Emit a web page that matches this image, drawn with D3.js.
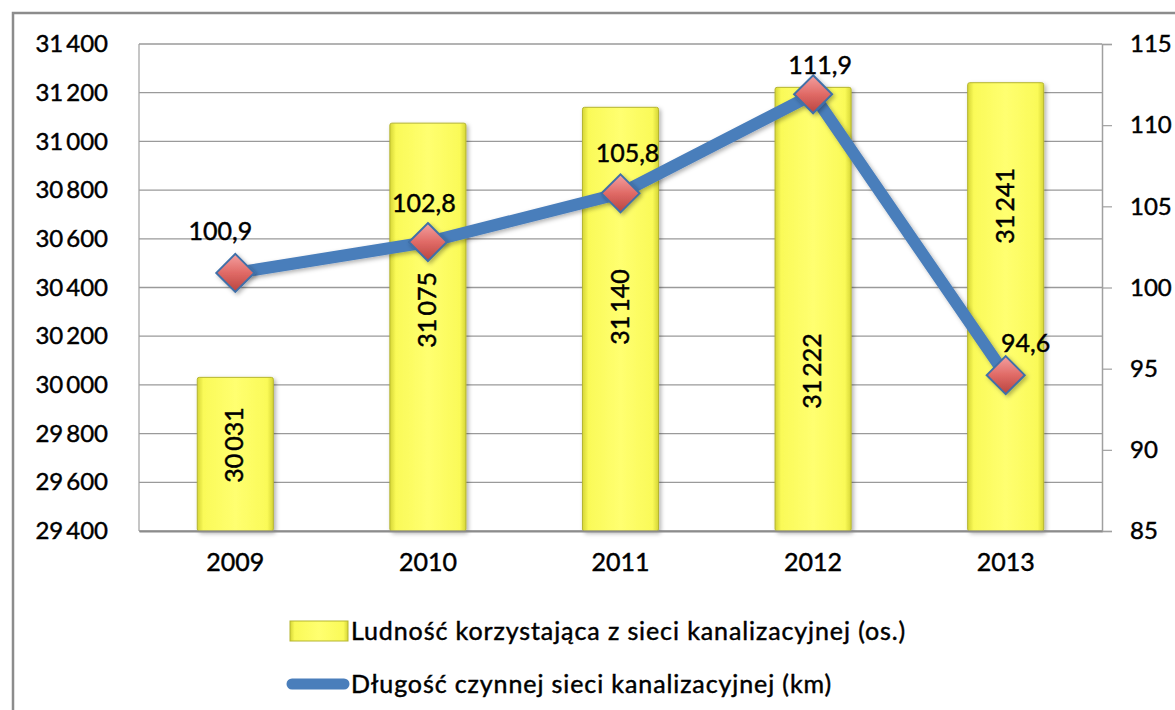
<!DOCTYPE html>
<html>
<head>
<meta charset="utf-8">
<script src="https://cdn.jsdelivr.net/npm/d3@7"></script>
<style>
  body { margin: 0; background: #fff; }
  svg { font-family: Lato, "Open Sans", sans-serif; }
  svg text { stroke: #000; stroke-width: 0.45px; }
</style>
</head>
<body>
<svg width="1175" height="710"></svg>
<script>
const years = ["2009", "2010", "2011", "2012", "2013"];
const population = [30031, 31075, 31140, 31222, 31241];
const networkKm = [100.9, 102.8, 105.8, 111.9, 94.6];
const leftTicks = [29400, 29600, 29800, 30000, 30200, 30400, 30600, 30800, 31000, 31200, 31400];
const rightTicks = [85, 90, 95, 100, 105, 110, 115];
const seriesNames = ["Ludność korzystająca z sieci kanalizacyjnej (os.)", "Długość czynnej sieci kanalizacyjnej (km)"];

// where the rotated bar labels sit (left-axis units) and line label nudges
const barLabelAt = [29753, 30308, 30320, 30057, 30735];
const lineLabelNudge = [[-15, -33], [-4, -30], [7, -31], [7, -20], [20, -23]];

const svg = d3.select("svg");
const m = { left: 139, right: 1102, top: 44, bottom: 531 };

const fmt = v => d3.format(",")(v).replace(/,/g, "\u2009");
const fmtDec = v => d3.format(".1f")(v).replace(".", ",");

const x = d3.scaleBand().domain(years).range([m.left, m.right])
  .paddingInner(0.605).paddingOuter(0.3025);
const y = d3.scaleLinear().domain([29400, 31400]).range([m.bottom, m.top]);
const y2 = d3.scaleLinear().domain([85, 115]).range([m.bottom, m.top]);
const cx = d => x(d) + x.bandwidth() / 2;

const defs = svg.append("defs");
const bg = defs.append("linearGradient").attr("id", "barGrad");
bg.append("stop").attr("offset", "0").attr("stop-color", "#d6d636");
bg.append("stop").attr("offset", "0.08").attr("stop-color", "#fafa58");
bg.append("stop").attr("offset", "0.5").attr("stop-color", "#ffff70");
bg.append("stop").attr("offset", "0.92").attr("stop-color", "#fafa58");
bg.append("stop").attr("offset", "1").attr("stop-color", "#d6d636");
const mg = defs.append("linearGradient").attr("id", "mkGrad")
  .attr("x1", 0).attr("y1", 0).attr("x2", 0).attr("y2", 1);
mg.append("stop").attr("offset", "0").attr("stop-color", "#f4a0a0");
mg.append("stop").attr("offset", "0.5").attr("stop-color", "#e06a66");
mg.append("stop").attr("offset", "1").attr("stop-color", "#b8443f");
const sh = defs.append("filter").attr("id", "shadow").attr("x", "-20%").attr("y", "-20%")
  .attr("width", "140%").attr("height", "140%");
sh.append("feDropShadow").attr("dx", 2).attr("dy", 2).attr("stdDeviation", 2)
  .attr("flood-color", "#000").attr("flood-opacity", 0.3);

// outer frame
svg.append("path").attr("d", "M13,710 V13 H1175")
  .attr("fill", "none").attr("stroke", "#8c8c8c").attr("stroke-width", 2.5);

// grid
svg.append("g").selectAll("line").data(leftTicks).join("line")
  .attr("x1", m.left).attr("x2", m.right)
  .attr("y1", d => y(d)).attr("y2", d => y(d))
  .attr("stroke", "#9a9a9a").attr("stroke-width", 1.3);
svg.append("line").attr("x1", m.left).attr("x2", m.left)
  .attr("y1", m.top).attr("y2", m.bottom).attr("stroke", "#a0a0a0").attr("stroke-width", 1.2);

// left axis labels
const gl = svg.append("g").attr("transform", `translate(${m.left},0)`)
  .call(d3.axisLeft(y).tickValues(leftTicks).tickFormat(fmt).tickSize(0).tickPadding(31));
gl.select(".domain").remove();
gl.selectAll("text").attr("font-size", 24).attr("fill", "#000").attr("font-family", "Lato");

// right axis
const gr = svg.append("g").attr("transform", `translate(${m.right},0)`)
  .call(d3.axisRight(y2).tickValues(rightTicks).tickSize(10).tickPadding(18));
gr.select(".domain").attr("stroke", "#a0a0a0").attr("stroke-width", 1.5);
gr.selectAll(".tick line").attr("stroke", "#a0a0a0").attr("stroke-width", 1.2);
gr.selectAll("text").attr("font-size", 24).attr("fill", "#000").attr("font-family", "Lato");

// bars
svg.append("g").selectAll("rect").data(years).join("rect")
  .attr("x", d => x(d)).attr("width", x.bandwidth())
  .attr("y", (d, i) => y(population[i]))
  .attr("height", (d, i) => m.bottom - y(population[i]))
  .attr("rx", 2)
  .attr("fill", "url(#barGrad)").attr("stroke", "#b5b530").attr("stroke-width", 1)
  .attr("filter", "url(#shadow)");

// bottom axis
const gx = svg.append("g").attr("transform", `translate(0,${m.bottom})`)
  .call(d3.axisBottom(x).tickSize(0).tickPadding(22));
gx.select(".domain").attr("stroke", "#8c8c8c").attr("stroke-width", 2);
gx.selectAll("text").attr("font-size", 25).attr("fill", "#000").attr("font-family", "Lato");

// bar value labels (rotated)
svg.append("g").selectAll("text").data(years).join("text")
  .attr("transform", (d, i) => `translate(${cx(d) + 8},${y(barLabelAt[i])}) rotate(-90)`)
  .attr("text-anchor", "middle")
  .attr("font-size", 25).attr("fill", "#000")
  .text((d, i) => fmt(population[i]));

// line
const line = d3.line().x((d, i) => cx(years[i])).y(d => y2(d));
svg.append("path").datum(networkKm).attr("d", line)
  .attr("fill", "none").attr("stroke", "#4a7ebb").attr("stroke-width", 12)
  .attr("stroke-linejoin", "round").attr("filter", "url(#shadow)");

// markers
const r = 19;
svg.append("g").selectAll("path").data(networkKm).join("path")
  .attr("d", (d, i) => {
    const px = cx(years[i]), py = y2(d);
    return `M${px},${py - r} L${px + r},${py} L${px},${py + r} L${px - r},${py} Z`;
  })
  .attr("fill", "url(#mkGrad)").attr("stroke", "#3f6fa8").attr("stroke-width", 2)
  .attr("filter", "url(#shadow)");

// line value labels
svg.append("g").selectAll("text").data(networkKm).join("text")
  .attr("x", (d, i) => cx(years[i]) + lineLabelNudge[i][0])
  .attr("y", (d, i) => y2(d) + lineLabelNudge[i][1])
  .attr("text-anchor", "middle").attr("font-size", 25).attr("fill", "#000")
  .text(d => fmtDec(d));

// legend
const lg = svg.append("g");
lg.append("rect").attr("x", 290).attr("y", 621).attr("width", 58).attr("height", 20)
  .attr("fill", "url(#barGrad)").attr("stroke", "#b5b530");
lg.append("text").attr("x", 351).attr("y", 640).attr("font-size", 25)
  .attr("letter-spacing", 0.9).text(seriesNames[0]);
lg.append("line").attr("x1", 292).attr("x2", 344).attr("y1", 684).attr("y2", 684)
  .attr("stroke", "#4a7ebb").attr("stroke-width", 11).attr("stroke-linecap", "round");
lg.append("text").attr("x", 351).attr("y", 693).attr("font-size", 25)
  .attr("letter-spacing", 0.9).text(seriesNames[1]);
</script>
</body>
</html>
